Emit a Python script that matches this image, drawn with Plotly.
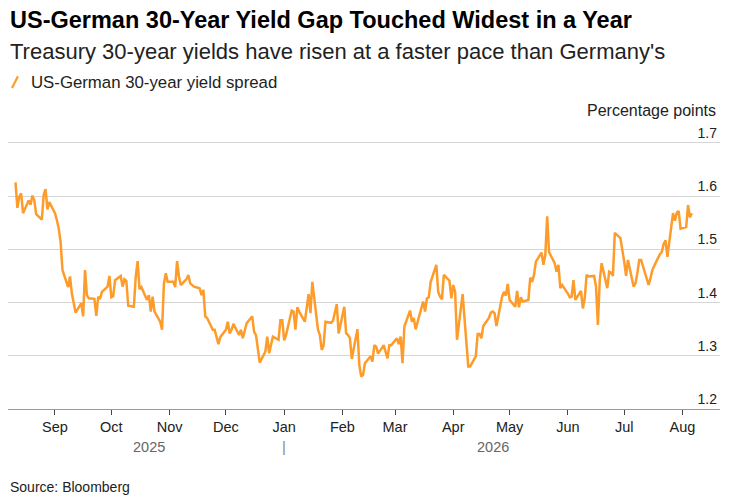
import plotly.graph_objects as go
import pandas as pd

## Daily US minus German 30-year yield, percentage points
spread = [
    1.626, 1.578, 1.599, 1.605, 1.568, 1.592, 1.584, 1.601, 1.592, 1.566,
    1.556, 1.602, 1.613, 1.575, 1.589, 1.568, 1.555, 1.539, 1.514, 1.461,
    1.429, 1.449, 1.417, 1.399, 1.381, 1.399, 1.374, 1.461, 1.414, 1.408,
    1.407, 1.375, 1.411, 1.407, 1.420, 1.430, 1.450, 1.410, 1.412, 1.442,
    1.450, 1.430, 1.444, 1.441, 1.394,
    1.392, 1.449, 1.478, 1.425, 1.429, 1.405, 1.414, 1.383, 1.411, 1.383,
    1.364, 1.349, 1.436, 1.455, 1.439, 1.439, 1.429, 1.478, 1.449, 1.433,
    1.444, 1.452, 1.436, 1.433, 1.430, 1.427, 1.414, 1.424, 1.374, 1.371,
    1.349, 1.349, 1.336, 1.322, 1.335, 1.349, 1.364, 1.342, 1.349, 1.360,
    1.339, 1.349,
    1.333, 1.349, 1.361, 1.374, 1.345, 1.339, 1.314, 1.287, 1.308, 1.336,
    1.305, 1.320, 1.336, 1.330, 1.367, 1.367, 1.329, 1.339, 1.385, 1.383,
    1.349, 1.391, 1.383, 1.364, 1.392, 1.416, 1.380, 1.439, 1.349, 1.339,
    1.311, 1.320, 1.364, 1.362, 1.366, 1.383, 1.397, 1.342, 1.392, 1.342,
    1.339, 1.333, 1.294, 1.350, 1.283, 1.261, 1.264, 1.286, 1.299, 1.289,
    1.320, 1.317, 1.304, 1.320, 1.305, 1.295, 1.320, 1.320, 1.333, 1.322,
    1.336, 1.286, 1.355, 1.385, 1.364, 1.371, 1.350, 1.364, 1.402, 1.383,
    1.408, 1.410, 1.439, 1.471, 1.420, 1.411, 1.406, 1.452, 1.441, 1.408,
    1.433, 1.420, 1.330,
    1.416, 1.367, 1.330, 1.280, 1.280, 1.299, 1.341, 1.341, 1.333, 1.356,
    1.371, 1.381, 1.383, 1.380, 1.356, 1.411, 1.420, 1.413, 1.435, 1.405,
    1.392, 1.422, 1.391, 1.410, 1.402, 1.405, 1.447, 1.439, 1.452, 1.477,
    1.494, 1.471, 1.489, 1.562, 1.495, 1.474, 1.458, 1.471, 1.427, 1.433,
    1.417, 1.410,
    1.411, 1.442, 1.405, 1.422, 1.389, 1.408, 1.452, 1.449, 1.450, 1.430,
    1.358, 1.442, 1.474, 1.427, 1.458, 1.456, 1.450, 1.531, 1.521, 1.502,
    1.477, 1.450, 1.480, 1.430, 1.436, 1.455, 1.480, 1.480, 1.442, 1.433,
    1.446, 1.461, 1.469, 1.491, 1.495, 1.510, 1.517, 1.486, 1.568, 1.554,
    1.569, 1.572, 1.539, 1.542, 1.583, 1.560, 1.568,
]
dates = pd.bdate_range("2025-08-11", periods=len(spread))

y_ticks = [1.2, 1.3, 1.4, 1.5, 1.6, 1.7]
y_labels = ["1.2", "1.3", "1.4", "1.5", "1.6", "1.7"]
years = [("2025-10-21", "2025"), ("2026-04-22", "2026")]

FONT = "Liberation Sans, Arial, sans-serif"
ORANGE = "#fd9c2a"

fig = go.Figure(go.Scatter(
    x=dates, y=spread, mode="lines",
    line=dict(color=ORANGE, width=2.5),
    hoverinfo="skip", showlegend=False,
))

# page body adds an 8px margin, so the figure is drawn 8px smaller;
# y range runs past 1.7 so its label (above the gridline) stays visible
fig.update_layout(
    width=732, height=492,
    margin=dict(l=0, r=20, t=103, b=91),
    paper_bgcolor="white", plot_bgcolor="white",
    font=dict(family=FONT, size=14, color="#222"),
    xaxis=dict(
        range=["2025-08-07", "2026-08-21"],
        tick0="2025-09-01", dtick="M1", tickformat="%b",
        ticks="outside", ticklen=5, tickcolor="#444", tickwidth=1,
        showgrid=False, showline=True, linecolor="#9a9a9a", linewidth=1,
        tickfont=dict(size=14.5, color="#222"), zeroline=False,
    ),
    yaxis=dict(
        range=[1.2, 1.76], side="right",
        tickvals=y_ticks, ticktext=y_labels,
        ticklabelposition="inside top", ticks="",
        showgrid=True, gridcolor="#d6d6d6", gridwidth=1,
        tickfont=dict(size=14, color="#222"), zeroline=False,
    ),
)

notes = [
    dict(x=0, y=1.305, text="<b>US-German 30-Year Yield Gap Touched Widest in a Year</b>",
         font=dict(size=23.5, color="#000"), xanchor="left"),
    dict(x=0, y=1.198, text="Treasury 30-year yields have risen at a faster pace than Germany's",
         font=dict(size=22, color="#222"), xanchor="left"),
    dict(x=0.029, y=1.097, text="US-German 30-year yield spread",
         font=dict(size=16.8, color="#222"), xanchor="left"),
    dict(x=0.997, y=1.003, text="Percentage points",
         font=dict(size=16, color="#222"), xanchor="right"),
    dict(x=0, y=-0.262, text="Source: Bloomberg",
         font=dict(size=14, color="#222"), xanchor="left"),
]
for n in notes:
    fig.add_annotation(xref="paper", yref="paper", yanchor="middle",
                       showarrow=False, **n)

for d, label in years:
    fig.add_annotation(x=d, xref="x", y=-0.1275, yref="paper", yanchor="middle",
                       text=label, showarrow=False,
                       font=dict(size=14.5, color="#666"))
fig.add_annotation(x="2026-01-01", xref="x", y=-0.1275, yref="paper", yanchor="middle",
                   text="|", showarrow=False, font=dict(size=15, color="#888"))

## legend swatch: short orange slash
fig.add_shape(type="line", xref="paper", yref="paper",
              x0=0.0056, y0=1.077, x1=0.0140, y1=1.117,
              line=dict(color=ORANGE, width=2.2))

fig.write_html("out.html")
